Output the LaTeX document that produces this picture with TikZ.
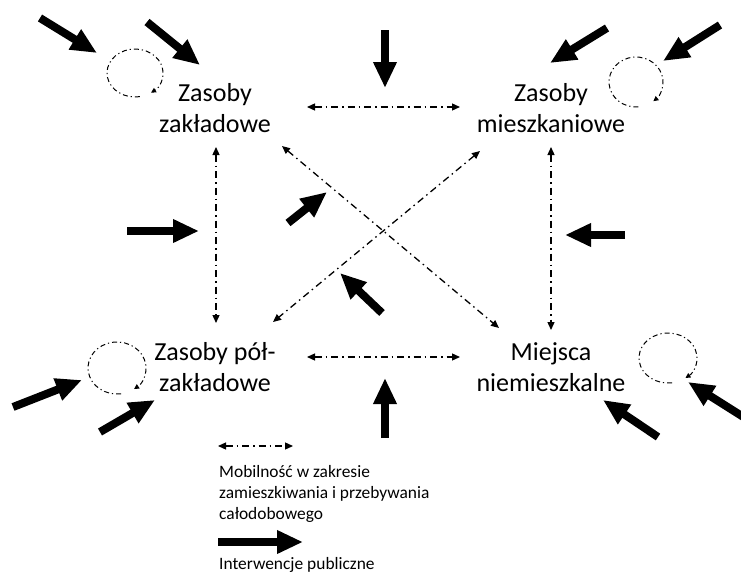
\documentclass[tikz,border=0pt]{standalone}
\usepackage{fontspec}
\setmainfont{Carlito}
\usetikzlibrary{arrows.meta}
\begin{document}
\begin{tikzpicture}[x=1pt,y=-1pt,
  lbl/.style={align=center,font=\fontsize{26}{31.5}\selectfont,inner sep=0pt},
  mob/.style={line width=1.3pt,dash pattern=on 7pt off 4pt on 1.5pt off 4pt,
    {Triangle[length=8pt,width=7pt]}-{Triangle[length=8pt,width=7pt]}},
  loopc/.style={line width=1pt,dash pattern=on 5pt off 3pt on 1.2pt off 3pt,
    -{Triangle[length=5pt,width=5pt]}},
  interv/.style={line width=8pt,-{Triangle[length=26pt,width=22pt]}},
  leg/.style={align=left,font=\fontsize{17.4}{21}\selectfont,inner sep=0pt,anchor=west}]
\useasboundingbox (0,0) rectangle (741,573);

% main nodes
\node[lbl] (tl) at (215,108) {Zasoby\\zakładowe};
\node[lbl] (tr) at (551,108) {Zasoby\\mieszkaniowe};
\node[lbl] (bl) at (215,367) {Zasoby pół-\\zakładowe};
\node[lbl] (br) at (551,367) {Miejsca\\niemieszkalne};

% connector end points
\coordinate (tlE) at (307,107);  \coordinate (trW) at (460,107);
\coordinate (blE) at (307,357);  \coordinate (brW) at (460,357);
\coordinate (tlS) at (216,147);  \coordinate (blN) at (216,323);
\coordinate (trS) at (551,147);  \coordinate (brN) at (551,330);
\coordinate (tlSE) at (282,146); \coordinate (brNW) at (499,328);
\coordinate (trSW) at (480,151); \coordinate (blNE) at (273,322);

% mobility connectors
\draw[mob] (tlE) -- (trW);
\draw[mob] (blE) -- (brW);
\draw[mob] (tlS) -- (blN);
\draw[mob] (trS) -- (brN);
\draw[mob] (tlSE) -- (brNW);
\draw[mob] (trSW) -- (blNE);

% loops
\draw[loopc] (135,73) ++(80:28 and 24) arc[start angle=80, end angle=415, x radius=28, y radius=24];
\draw[loopc] (636,82) ++(85:27 and 25) arc[start angle=85, end angle=410, x radius=27, y radius=25];
\draw[loopc] (117,368) ++(82:29 and 26) arc[start angle=82, end angle=414, x radius=29, y radius=26];
\draw[loopc] (668,358) ++(82:29 and 25) arc[start angle=82, end angle=413, x radius=29, y radius=25];

% public interventions
\foreach \ax/\ay/\bx/\by in {40/18/97/53, 147/22/200/65, 385/30/385/88,
  607/28/550/63, 720/25/663/61, 127/231/199/231, 625/235/565/235,
  288/223/327/192, 382/313/340/273, 13/407/82/380, 100/432/155/400,
  385/438/385/378, 658/437/603/400, 745/418/688/382}
  \draw[interv] (\ax,\ay) -- (\bx,\by);

% legend
\coordinate (l1a) at (218,446); \coordinate (l1b) at (293,446);
\draw[mob] (l1a) -- (l1b);
\node[leg] (legmob) at (219,494) {Mobilność w zakresie\\zamieszkiwania i przebywania\\całodobowego};
\coordinate (l2a) at (218,542); \coordinate (l2b) at (303,542);
\draw[interv] (l2a) -- (l2b);
\node[leg] (legint) at (219,565) {Interwencje publiczne};
\end{tikzpicture}
\end{document}
